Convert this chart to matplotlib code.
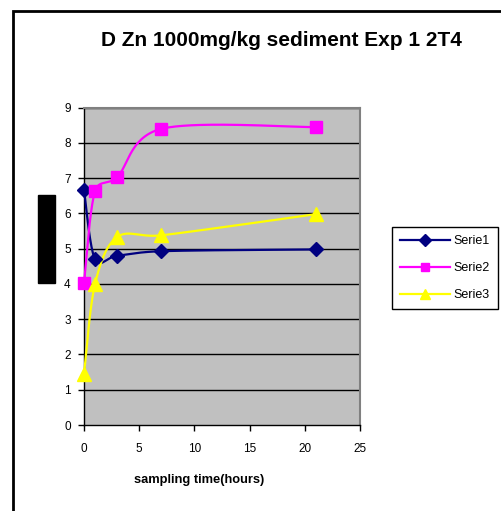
import numpy as np
import matplotlib
matplotlib.use("Agg")
import matplotlib.pyplot as plt
from matplotlib.lines import Line2D
from matplotlib.patches import Rectangle

plt.rcParams['font.family'] = ['Liberation Sans', 'DejaVu Sans']

# ---- data ----
hours = [0, 1, 3, 7, 21]
serie1 = [6.67, 4.70, 4.80, 4.93, 4.98]
serie2 = [4.04, 6.63, 7.03, 8.40, 8.45]
serie3 = [1.45, 4.00, 5.33, 5.38, 5.98]
series_names = ["Serie1", "Serie2", "Serie3"]
title = "D Zn 1000mg/kg sediment Exp 1 2T4"
xlabel = "sampling time(hours)"
ylabel = "Zn concentration"
xticks = [0, 5, 10, 15, 20, 25]
yticks = list(range(0, 10))

W, H = 501, 511
fig = plt.figure(figsize=(W / 100, H / 100), dpi=100)
fig.patch.set_facecolor("white")

# outer border (left/top visible, extends past right/bottom)
fig.add_artist(Rectangle((12.5 / W, -0.1), 1.2, 1.1 - 11.5 / H, transform=fig.transFigure,
                         fill=False, edgecolor="black", linewidth=2.0))

ax = fig.add_axes([84 / W, 1 - 425 / H, (360 - 84) / W, (425 - 107.7) / H])
ax.set_facecolor("#C0C0C0")
ax.set_xlim(0, 25)
ax.set_ylim(0, 9)
for y in yticks[1:]:
    ax.axhline(y, color="black", linewidth=1.0, zorder=1)

for s in ["top", "right"]:
    ax.spines[s].set_color("#808080")
    ax.spines[s].set_linewidth(1.5)
for s in ["left", "bottom"]:
    ax.spines[s].set_color("black")
    ax.spines[s].set_linewidth(1.0)

ax.set_xticks(xticks)
ax.set_yticks(yticks)
ax.tick_params(axis="both", direction="out", length=4, width=1, labelsize=8.5, colors="black")
ax.tick_params(axis="x", pad=9)
ax.tick_params(axis="y", pad=5.5)


def smooth(ax, xs, ys, n=60):
    """Excel-like smoothed line: Catmull-Rom Bezier in pixel space, arms capped."""
    pts = ax.transData.transform(np.column_stack([xs, ys]))
    P = np.vstack([pts[0], pts, pts[-1]])
    out = []
    for i in range(1, len(P) - 2):
        p0, p1, p2, p3 = P[i - 1], P[i], P[i + 1], P[i + 2]
        d12 = np.hypot(*(p2 - p1))
        d02 = np.hypot(*(p2 - p0))
        d13 = np.hypot(*(p3 - p1))
        f1 = 1 / 6 if d02 / 6 < d12 / 2 else d12 / d02 / 2
        f2 = 1 / 6 if d13 / 6 < d12 / 2 else d12 / d13 / 2
        c1 = p1 + (p2 - p0) * f1
        c2 = p2 - (p3 - p1) * f2
        t = np.linspace(0, 1, n)[:, None]
        seg = ((1 - t) ** 3) * p1 + 3 * ((1 - t) ** 2) * t * c1 + 3 * (1 - t) * t ** 2 * c2 + t ** 3 * p2
        out.append(seg if i == 1 else seg[1:])
    out = np.vstack(out)
    d = ax.transData.inverted().transform(out)
    return d[:, 0], d[:, 1]


styles = [
    dict(color="#000080", marker="D", ms=7.5),
    dict(color="#FF00FF", marker="s", ms=8),
    dict(color="#FFFF00", marker="^", ms=10),
]
handles = []
for ys, st, name in zip([serie1, serie2, serie3], styles, series_names):
    sx, sy = smooth(ax, hours, ys)
    ax.plot(sx, sy, color=st["color"], linewidth=1.6, zorder=3, clip_on=False)
    ax.plot(hours, ys, linestyle="none", marker=st["marker"], ms=st["ms"],
            color=st["color"], markeredgecolor=st["color"], zorder=4, clip_on=False)
    handles.append(Line2D([], [], color=st["color"], linewidth=1.6, marker=st["marker"],
                          ms=st["ms"] * 0.75, markeredgecolor=st["color"]))

fig.text(281 / W, 1 - 41 / H, title, ha="center", va="center", fontsize=15, fontweight="bold")
fig.text(199 / W, 1 - 480 / H, xlabel, ha="center", va="center", fontsize=9.3, fontweight="bold")
fig.add_artist(Rectangle((38 / W, 1 - 283 / H), 17 / W, 88 / H, transform=fig.transFigure,
                         facecolor="black", edgecolor="black"))
fig.text(46.5 / W, 1 - 239 / H, ylabel, ha="center", va="center", rotation=90,
         fontsize=7.5, fontweight="bold", color="black")

leg = fig.legend(handles, series_names, loc="upper left",
                 bbox_to_anchor=(392 / W, 1 - 227 / H), fontsize=9,
                 frameon=True, fancybox=False, edgecolor="black", framealpha=1,
                 handlelength=4.0, handletextpad=0.25, labelspacing=1.2,
                 borderpad=0.65, borderaxespad=0)
leg.get_frame().set_linewidth(1.0)

fig.savefig("out.png", dpi=100)
